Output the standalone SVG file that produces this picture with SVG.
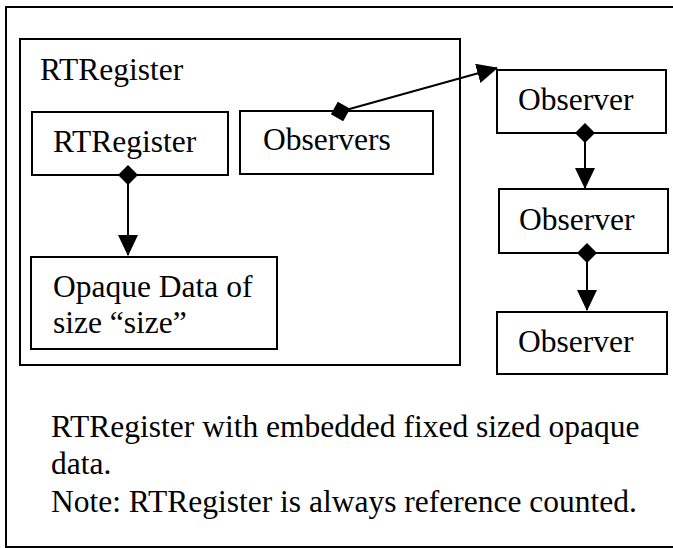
<svg xmlns="http://www.w3.org/2000/svg" width="673" height="548" viewBox="0 0 673 548">
  <style>
    .box { fill: #fff; stroke: #000; stroke-width: 2; }
    .frame { fill: none; stroke: #000; stroke-width: 2; }
    text { font-family: 'Liberation Serif', 'Times New Roman', serif; font-size: 31.5px; fill: #000; }
    .link { fill: none; stroke: #000; stroke-width: 2; }
  </style>
  <defs>
    <marker id="diamond" viewBox="0 0 20 20" refX="10" refY="10" markerWidth="20" markerHeight="20" markerUnits="userSpaceOnUse" orient="auto">
      <path d="M0,10 L10,0 L20,10 L10,20 Z" fill="#000"/>
    </marker>
    <marker id="arrow" viewBox="0 0 21 20" refX="20" refY="10" markerWidth="21" markerHeight="20" markerUnits="userSpaceOnUse" orient="auto">
      <path d="M0,0 L21,10 L0,20 Z" fill="#000"/>
    </marker>
  </defs>

  <!-- page frame -->
  <rect class="frame" x="6" y="7" width="690" height="540"/>

  <!-- containing RTRegister -->
  <g id="rtregister-outer">
    <rect class="frame" x="20" y="39" width="440" height="326"/>
    <text x="40" y="80">RTRegister</text>
  </g>

  <g id="rtregister">
    <rect class="box" x="32" y="112" width="196" height="63"/>
    <text x="53" y="152">RTRegister</text>
  </g>

  <g id="observers">
    <rect class="box" x="240" y="111" width="193" height="63"/>
    <text x="263" y="150">Observers</text>
  </g>

  <g id="opaque-data">
    <rect class="box" x="31" y="257" width="246" height="92"/>
    <text x="53" y="297">Opaque Data of</text>
    <text x="53" y="333">size “size”</text>
  </g>

  <g id="observer-1">
    <rect class="box" x="497" y="70" width="169" height="63"/>
    <text x="518" y="110">Observer</text>
  </g>

  <g id="observer-2">
    <rect class="box" x="499" y="189" width="169" height="64"/>
    <text x="519" y="230">Observer</text>
  </g>

  <g id="observer-3">
    <rect class="box" x="497" y="312" width="170" height="62"/>
    <text x="518" y="352">Observer</text>
  </g>

  <!-- aggregation links: diamond at owner, arrow at target -->
  <g id="connectors">
    <path class="link" d="M128,175 L128,255" marker-start="url(#diamond)" marker-end="url(#arrow)"/>
    <path class="link" d="M340.5,111.5 L497,68" marker-start="url(#diamond)" marker-end="url(#arrow)"/>
    <path class="link" d="M585,133 L585,188" marker-start="url(#diamond)" marker-end="url(#arrow)"/>
    <path class="link" d="M587,253 L587,310" marker-start="url(#diamond)" marker-end="url(#arrow)"/>
  </g>

  <!-- caption -->
  <g id="caption">
    <text x="51" y="437">RTRegister with embedded fixed sized opaque</text>
    <text x="51" y="474">data.</text>
    <text x="51" y="512">Note: RTRegister is always reference counted.</text>
  </g>
</svg>
